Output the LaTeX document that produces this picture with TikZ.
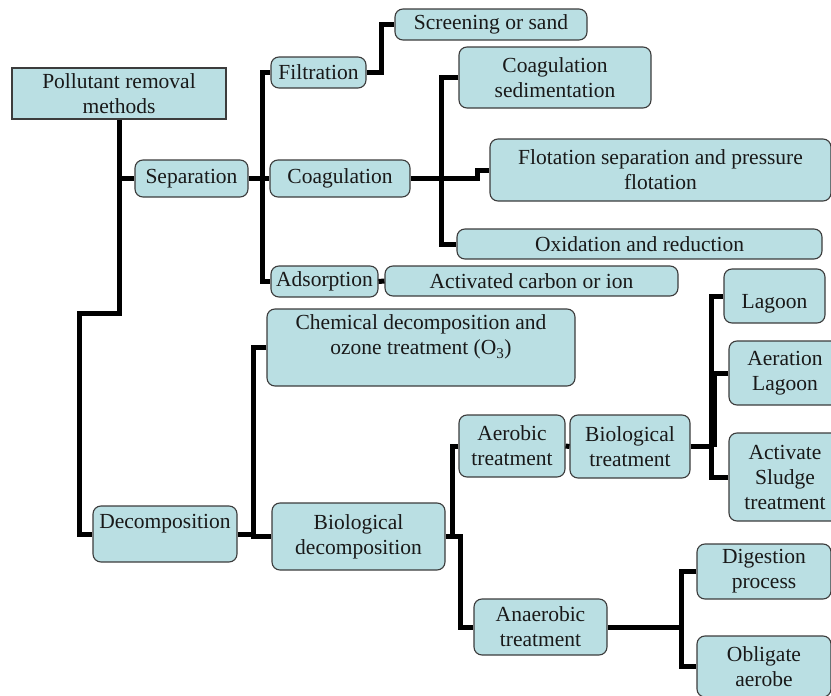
\documentclass[tikz,border=0pt]{standalone}
\usepackage{fontspec}
\setmainfont{Liberation Serif}
\definecolor{boxfill}{RGB}{186,223,227}
\definecolor{boxline}{RGB}{60,60,60}
\tikzset{
  box/.style={draw=boxline, fill=boxfill, line width=1.1pt, rounded corners=8pt,
    align=center, inner sep=0pt, text=black!90,
    font=\fontsize{21.5}{25}\selectfont},
  sharpbox/.style={box, rounded corners=0pt},
  link/.style={line width=5pt, black, line join=miter},
}
% \mkbox[style]{name}{x1}{y1}{x2}{y2}{text}
\newcommand\mkbox[7][box]{%
  \node[#1, minimum width={(#5-#3)*1pt}, minimum height={(#6-#4)*1pt}]
    (#2) at ({(#3+#5)/2},{(#4+#6)/2}) {#7};}
\begin{document}
\begin{tikzpicture}[x=1pt, y=-1pt]
\useasboundingbox (0,0) rectangle (831,696);
\clip (0,0) rectangle (831,696);

% separation branch
\mkbox[sharpbox]{root}{12}{68}{226}{119}{Pollutant removal\\methods}
\mkbox{sep}{135}{160}{248}{197}{Separation}
\mkbox{filt}{271}{57}{366}{88}{Filtration}
\mkbox{scr}{395}{9}{587}{40}{Screening or sand}
\mkbox{coag}{270}{160}{410}{197}{Coagulation}
\mkbox{csed}{459}{47}{651}{108}{Coagulation\\sedimentation}
\mkbox{flot}{490}{139}{831}{201}{Flotation separation and pressure\\flotation}
\mkbox{oxid}{457}{229}{822}{259}{Oxidation and reduction}
\mkbox{ads}{271}{266}{378}{297}{Adsorption}
\mkbox{act}{385}{266}{678}{296}{Activated carbon or ion}

% decomposition branch
\mkbox{chem}{267}{309}{575}{386}{Chemical decomposition and\\ozone treatment (O\textsubscript{3})\\\mbox{}}
\mkbox{decomp}{93}{506}{237}{562}{Decomposition\\\mbox{}}
\mkbox{biodec}{272}{503}{445}{570}{Biological\\decomposition}
\mkbox{aer}{459}{415}{565}{477}{Aerobic\\treatment}
\mkbox{biot}{570}{415}{690}{478}{Biological\\treatment}
\mkbox{lag}{724}{269}{825}{323}{\raisebox{-8pt}[\height][\depth]{Lagoon}}
\mkbox{aerl}{729}{341}{841}{405}{Aeration\\Lagoon}
\mkbox{acts}{729}{433}{841}{521}{Activate\\Sludge\\treatment}
\mkbox{anaer}{474}{599}{607}{655}{Anaerobic\\treatment}
\mkbox{dig}{697}{544}{831}{599}{Digestion\\process}
\mkbox{obl}{697}{636}{831}{697}{Obligate\\aerobe}

% trunk
\draw[link] (root.south) |- (79,313) |- (decomp.west);
\draw[link] (root.south |- sep.west) -- (sep.west);

% separation connectors
\coordinate (sj) at (262,178.5);
\draw[link] (sep.east) -- (coag.west);
\draw[link] (filt.west) -| (sj) |- (ads.west);
\draw[link] (filt.east) -- ++(15,0) |- (scr.west);
\coordinate (cj) at (441,178.5);
\draw[link] (coag.east) -- (cj);
\draw[link] (csed.west) -| (cj) |- (oxid.west);
\draw[link] (cj) -- (477,178.5) |- (flot.west);
\draw[link] (ads.east) -- (act.west);

% decomposition connectors
\coordinate (dj) at (253,536.5);
\draw[link] (decomp.east) -- (decomp.east -| dj);
\draw[link] (chem.west) -| (dj) -- (biodec.west);
\coordinate (bj) at (452,536.5);
\draw[link] (biodec.east) -- (bj);
\draw[link] (aer.west) -| (bj) -- (460,536.5) |- (anaer.west);
\draw[link] (aer.east) -- (biot.west);
\coordinate (tj) at (711,446.5);
\draw[link] (biot.east) -- (tj);
\draw[link] (lag.west) -| (tj) |- (acts.west);
\draw[link] (aerl.west) -- (aerl.west -| tj);
\draw[link] (714,373) -- (714,446.5);
\coordinate (nj) at (681,627);
\draw[link] (anaer.east) -- (nj);
\draw[link] (dig.west) -| (nj) |- (obl.west);
\end{tikzpicture}
\end{document}
